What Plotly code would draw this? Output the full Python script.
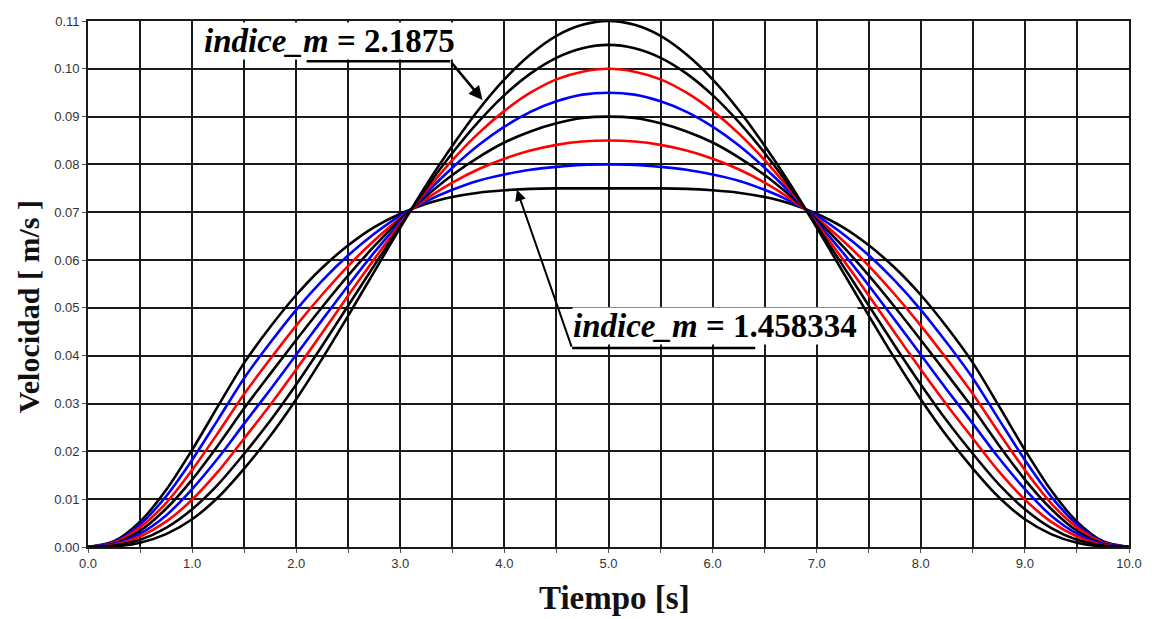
import plotly.graph_objects as go

# Time axis [s]
tiempo = [0.0, 0.25, 0.5, 0.75, 1.0, 1.25, 1.5, 1.75, 2.0, 2.25, 2.5, 2.75, 3.0, 3.25, 3.5, 3.75,
          4.0, 4.25, 4.5, 4.75, 5.0, 5.25, 5.5, 5.75, 6.0, 6.25, 6.5, 6.75, 7.0, 7.25, 7.5, 7.75,
          8.0, 8.25, 8.5, 8.75, 9.0, 9.25, 9.5, 9.75, 10.0]

# Velocity curves [m/s], from indice_m = 1.458334 (flattest) to 2.1875 (tallest)
v_m1 = [0, 0.0012, 0.0053, 0.0119, 0.0203, 0.0295, 0.0385, 0.0460, 0.0527, 0.0584, 0.0631,
        0.0669, 0.0697, 0.0718, 0.0732, 0.0741, 0.0746, 0.0749, 0.0750, 0.0750, 0.0750,
        0.0750, 0.0750, 0.0749, 0.0746, 0.0741, 0.0732, 0.0718, 0.0697, 0.0669, 0.0631,
        0.0584, 0.0527, 0.0460, 0.0385, 0.0295, 0.0203, 0.0119, 0.0053, 0.0012, 0]
v_m2 = [0, 0.0010, 0.0047, 0.0106, 0.0182, 0.0267, 0.0353, 0.0427, 0.0496, 0.0557, 0.0610,
        0.0655, 0.0693, 0.0723, 0.0747, 0.0766, 0.0779, 0.0789, 0.0795, 0.0799, 0.0800,
        0.0799, 0.0795, 0.0789, 0.0779, 0.0766, 0.0747, 0.0723, 0.0693, 0.0655, 0.0610,
        0.0557, 0.0496, 0.0427, 0.0353, 0.0267, 0.0182, 0.0106, 0.0047, 0.0010, 0]
v_m3 = [0, 0.0009, 0.0041, 0.0092, 0.0161, 0.0239, 0.0320, 0.0393, 0.0463, 0.0528, 0.0588,
        0.0641, 0.0688, 0.0728, 0.0762, 0.0790, 0.0812, 0.0829, 0.0841, 0.0848, 0.0850,
        0.0848, 0.0841, 0.0829, 0.0812, 0.0790, 0.0762, 0.0728, 0.0688, 0.0641, 0.0588,
        0.0528, 0.0463, 0.0393, 0.0320, 0.0239, 0.0161, 0.0092, 0.0041, 0.0009, 0]
v_m4 = [0, 0.0007, 0.0034, 0.0080, 0.0141, 0.0213, 0.0290, 0.0362, 0.0433, 0.0502, 0.0568,
        0.0629, 0.0685, 0.0734, 0.0778, 0.0815, 0.0846, 0.0869, 0.0886, 0.0897, 0.0900,
        0.0897, 0.0886, 0.0869, 0.0846, 0.0815, 0.0778, 0.0734, 0.0685, 0.0629, 0.0568,
        0.0502, 0.0433, 0.0362, 0.0290, 0.0213, 0.0141, 0.0080, 0.0034, 0.0007, 0]
v_m5 = [0, 0.0006, 0.0028, 0.0066, 0.0121, 0.0186, 0.0258, 0.0329, 0.0402, 0.0475, 0.0547,
        0.0616, 0.0680, 0.0740, 0.0793, 0.0840, 0.0879, 0.0910, 0.0932, 0.0946, 0.0950,
        0.0946, 0.0932, 0.0910, 0.0879, 0.0840, 0.0793, 0.0740, 0.0680, 0.0616, 0.0547,
        0.0475, 0.0402, 0.0329, 0.0258, 0.0186, 0.0121, 0.0066, 0.0028, 0.0006, 0]
v_m6 = [0, 0.0004, 0.0022, 0.0053, 0.0099, 0.0158, 0.0227, 0.0297, 0.0371, 0.0448, 0.0526,
        0.0602, 0.0676, 0.0745, 0.0809, 0.0865, 0.0912, 0.0950, 0.0978, 0.0994, 0.1000,
        0.0994, 0.0978, 0.0950, 0.0912, 0.0865, 0.0809, 0.0745, 0.0676, 0.0602, 0.0526,
        0.0448, 0.0371, 0.0297, 0.0227, 0.0158, 0.0099, 0.0053, 0.0022, 0.0004, 0]
v_m7 = [0, 0.0003, 0.0015, 0.0040, 0.0079, 0.0131, 0.0195, 0.0264, 0.0340, 0.0421, 0.0505,
        0.0589, 0.0672, 0.0751, 0.0824, 0.0889, 0.0945, 0.0990, 0.1023, 0.1043, 0.1050,
        0.1043, 0.1023, 0.0990, 0.0945, 0.0889, 0.0824, 0.0751, 0.0672, 0.0589, 0.0505,
        0.0421, 0.0340, 0.0264, 0.0195, 0.0131, 0.0079, 0.0040, 0.0015, 0.0003, 0]
v_m8 = [0, 0.0001, 0.0009, 0.0027, 0.0058, 0.0104, 0.0164, 0.0232, 0.0309, 0.0394, 0.0484,
        0.0576, 0.0668, 0.0757, 0.0839, 0.0914, 0.0978, 0.1030, 0.1069, 0.1092, 0.1100,
        0.1092, 0.1069, 0.1030, 0.0978, 0.0914, 0.0839, 0.0757, 0.0668, 0.0576, 0.0484,
        0.0394, 0.0309, 0.0232, 0.0164, 0.0104, 0.0058, 0.0027, 0.0009, 0.0001, 0]

series = [v_m1, v_m2, v_m3, v_m4, v_m5, v_m6, v_m7, v_m8]
colors = ["#000000", "#0000ff", "#ff0000", "#000000", "#0000ff", "#ff0000", "#000000", "#000000"]

x_tickvals = [0.0, 0.5, 1.0, 1.5, 2.0, 2.5, 3.0, 3.5, 4.0, 4.5, 5.0,
              5.5, 6.0, 6.5, 7.0, 7.5, 8.0, 8.5, 9.0, 9.5, 10.0]
x_ticktext = ["0.0", "", "1.0", "", "2.0", "", "3.0", "", "4.0", "", "5.0",
              "", "6.0", "", "7.0", "", "8.0", "", "9.0", "", "10.0"]
y_tickvals = [0.00, 0.01, 0.02, 0.03, 0.04, 0.05, 0.06, 0.07, 0.08, 0.09, 0.10, 0.11]
y_ticktext = ["0.00", "0.01", "0.02", "0.03", "0.04", "0.05", "0.06", "0.07", "0.08", "0.09", "0.10", "0.11"]

fig = go.Figure()
for ys, c in zip(series, colors):
    fig.add_trace(go.Scatter(x=tiempo, y=ys, mode="lines",
                             line=dict(color=c, width=2.6, shape="spline", smoothing=0.8),
                             showlegend=False, hoverinfo="skip"))

grid_col = "#1a1a1a"
tick_font = dict(family="Liberation Sans", size=13, color="#333")
fig.update_xaxes(range=[0, 10], tickvals=x_tickvals, ticktext=x_ticktext,
                 showgrid=True, gridcolor=grid_col, gridwidth=1.7,
                 ticks="outside", ticklen=4, tickcolor="#555",
                 showline=True, linecolor=grid_col, linewidth=1.7, mirror=True,
                 zeroline=False, automargin=False, tickfont=tick_font)
fig.update_yaxes(range=[0, 0.11], tickvals=y_tickvals, ticktext=y_ticktext,
                 showgrid=True, gridcolor=grid_col, gridwidth=1.7,
                 ticks="outside", ticklen=4, tickcolor="#555",
                 showline=True, linecolor=grid_col, linewidth=1.7, mirror=True,
                 zeroline=False, automargin=False, tickfont=tick_font)

fig.add_annotation(xref="paper", yref="paper", x=-0.0576, y=0.456, textangle=-90,
                   text="<b>Velocidad [ m/s ]</b>", showarrow=False,
                   font=dict(family="Liberation Serif", size=30, color="#111"),
                   xanchor="center", yanchor="middle")
fig.add_annotation(xref="paper", yref="paper", x=0.506, y=-0.097,
                   text="<b>Tiempo [s]</b>", showarrow=False,
                   font=dict(family="Liberation Serif", size=33, color="#111"),
                   xanchor="center", yanchor="middle")

ann_font = dict(family="Liberation Serif", size=33, color="#000")
# label for indice_m = 2.1875
fig.add_annotation(x=2.32, y=0.1058, xref="x", yref="y", showarrow=False,
                   text="<b><i>indice_m</i> = 2.1875</b>", font=ann_font,
                   bgcolor="white", borderpad=0)
fig.add_shape(type="line", xref="x", yref="y", x0=2.10, y0=0.1016, x1=3.48, y1=0.1016,
              line=dict(color="black", width=2.5))
fig.add_annotation(x=3.79, y=0.0935, ax=3.48, ay=0.1016, xref="x", yref="y",
                   axref="x", ayref="y", text="", showarrow=True,
                   arrowhead=2, arrowsize=1.1, arrowwidth=2.5, arrowcolor="black")
# label for indice_m = 1.458334
fig.add_annotation(x=6.02, y=0.0462, xref="x", yref="y", showarrow=False,
                   text="<b><i>indice_m</i> = 1.458334</b>", font=ann_font,
                   bgcolor="white", borderpad=0)
fig.add_shape(type="line", xref="x", yref="y", x0=4.65, y0=0.0416, x1=6.41, y1=0.0416,
              line=dict(color="black", width=2.5))
fig.add_annotation(x=4.12, y=0.0747, ax=4.65, ay=0.0416, xref="x", yref="y",
                   axref="x", ayref="y", text="", showarrow=True,
                   arrowhead=2, arrowsize=1.1, arrowwidth=2.0, arrowcolor="black")

fig.update_layout(width=1163, height=619,
                  margin=dict(l=88, r=34, t=21, b=72),
                  paper_bgcolor="white", plot_bgcolor="white")

fig.write_html("out.html", config={"displayModeBar": False})

# remove the browser's default page margin so the figure sits at the top-left corner
with open("out.html", "r", encoding="utf-8") as f:
    html = f.read()
html = html.replace("<head>", "<head><style>html,body{margin:0;padding:0;overflow:hidden;}</style>", 1)
with open("out.html", "w", encoding="utf-8") as f:
    f.write(html)
